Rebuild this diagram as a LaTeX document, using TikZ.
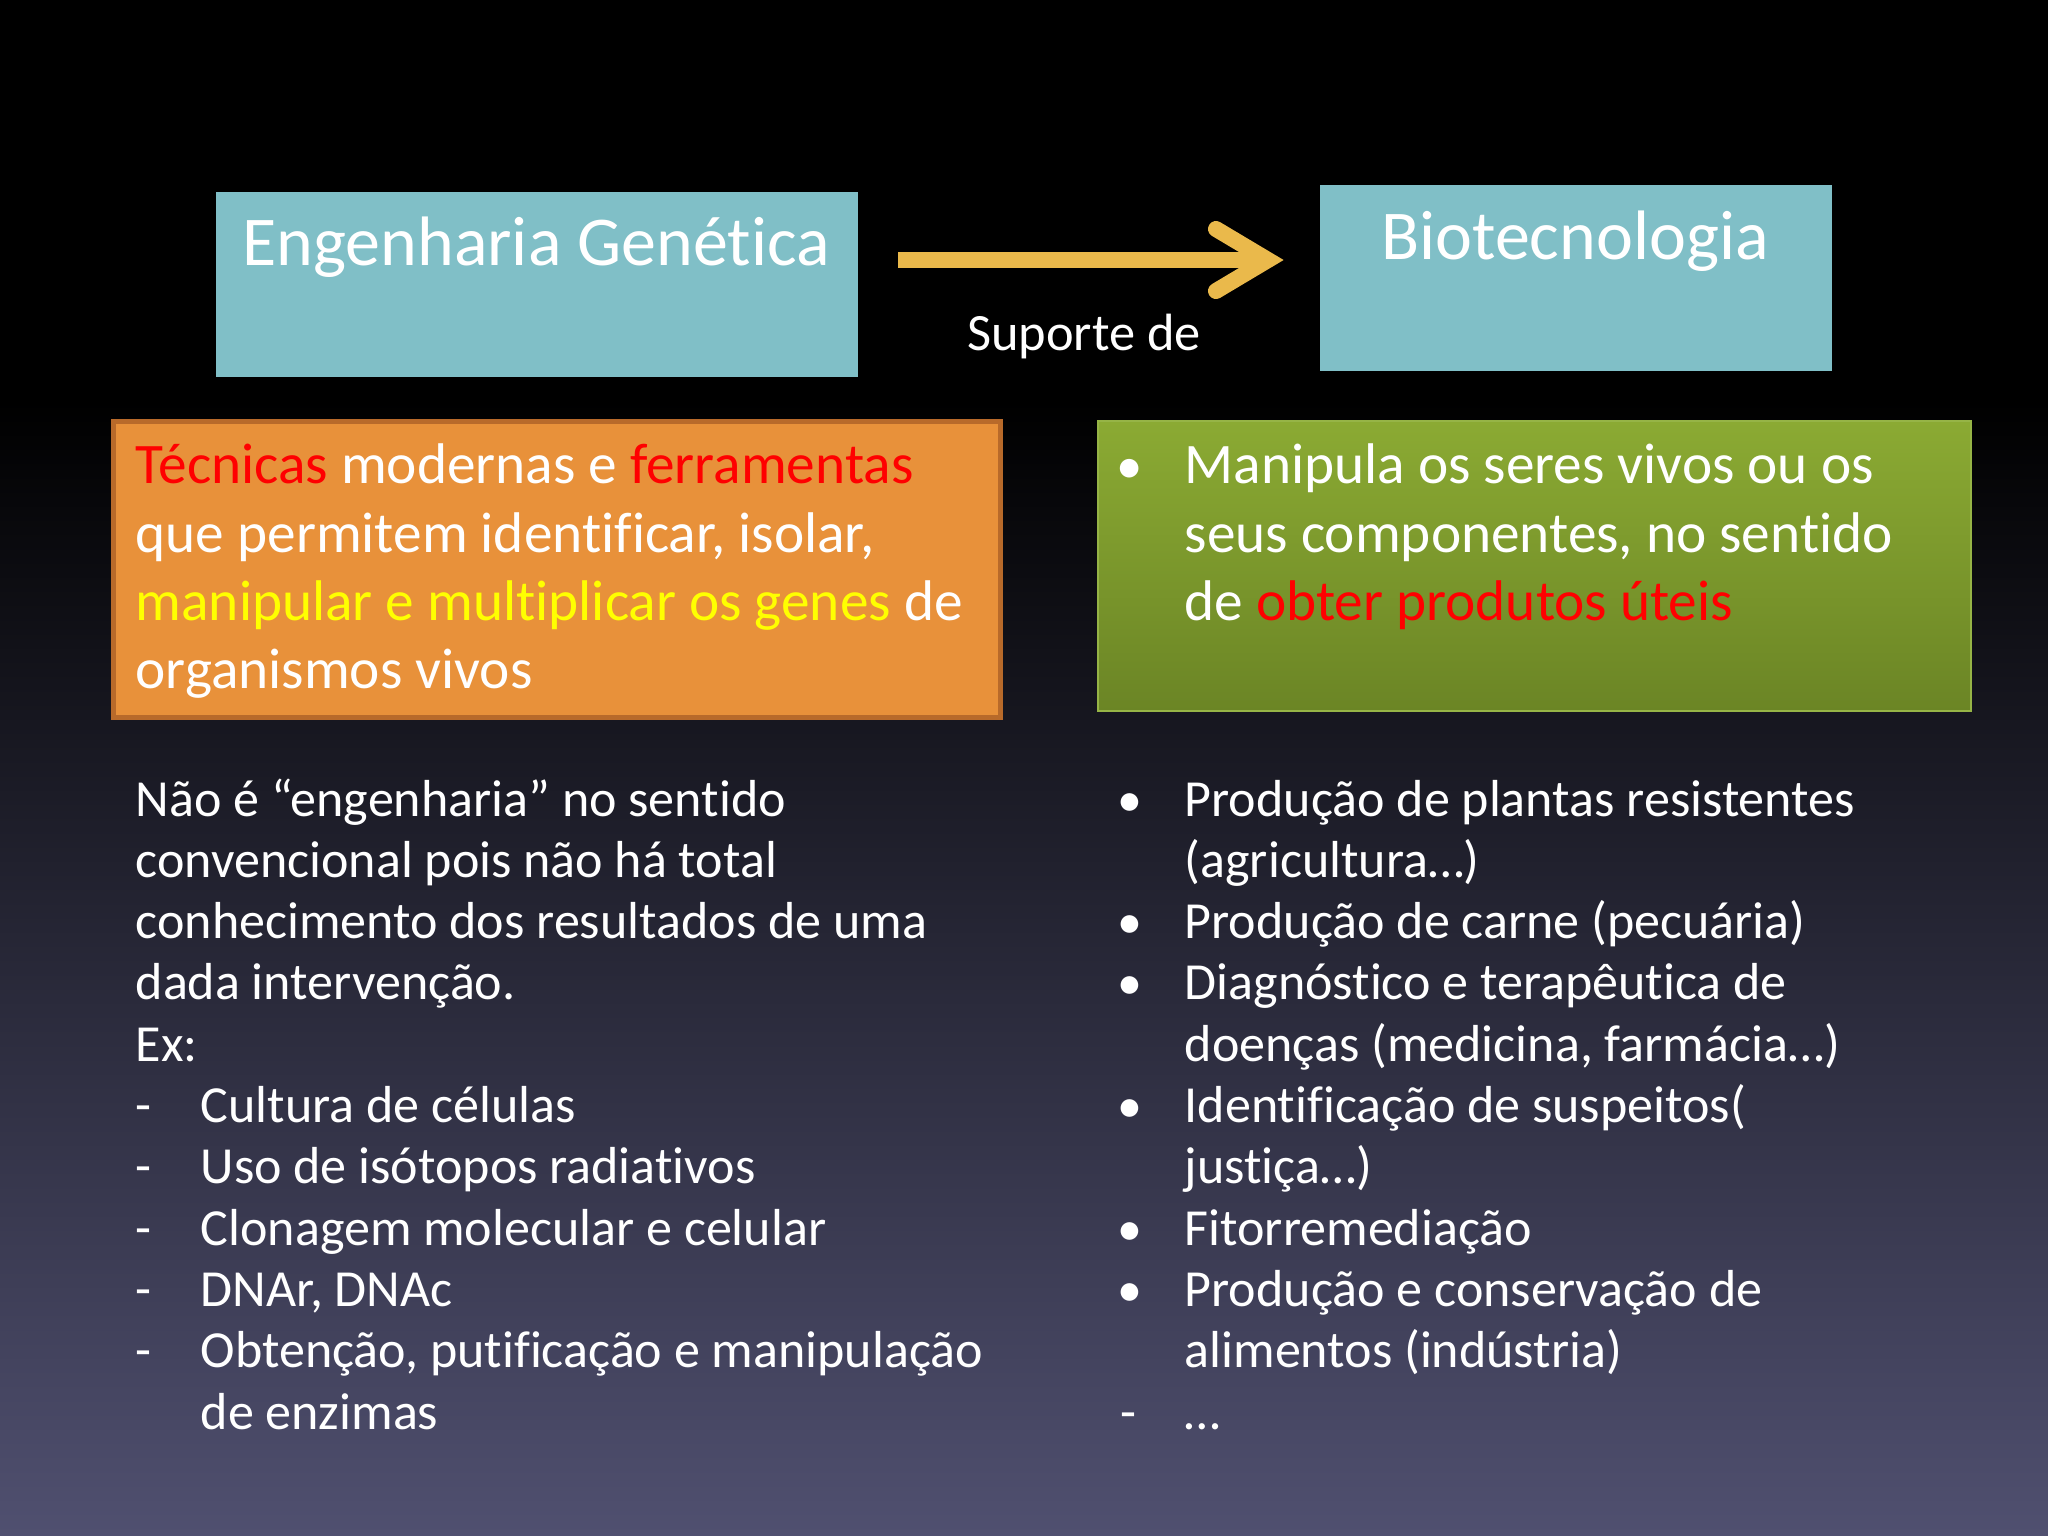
\documentclass[tikz,border=0pt]{standalone}
\usepackage{fontspec}
\setmainfont[Ligatures={NoCommon}]{Carlito}
\definecolor{bgbot}{RGB}{80,80,112}
\definecolor{teal}{RGB}{128,191,199}
\definecolor{orfill}{RGB}{232,145,58}
\definecolor{orline}{RGB}{184,106,42}
\definecolor{grtop}{RGB}{139,170,51}
\definecolor{grbot}{RGB}{107,133,37}
\definecolor{grline}{RGB}{150,180,70}
\definecolor{arrowc}{RGB}{234,185,75}
\definecolor{hlred}{RGB}{255,0,0}
\definecolor{hlyel}{RGB}{255,255,0}
\begin{document}
\begin{tikzpicture}[x=0.01cm,y=-0.01cm,
  txt/.style={text=white, inner sep=0pt, anchor=base west, font=\fontsize{14.8}{17}\selectfont},
  boxtxt/.style={text=white, inner sep=0pt, anchor=base west, font=\fontsize{16.3}{19}\selectfont},
  bul/.style={text=white, inner sep=0pt, anchor=base, font=\fontsize{14.2}{17}\selectfont},
  titletxt/.style={text=white, inner sep=0pt, anchor=base, font=\fontsize{19.9}{24}\selectfont},
  tealbox/.style={fill=teal, draw=none, anchor=north west, inner sep=0pt},
  arrowline/.style={draw=arrowc, line width=0.16cm}]
\useasboundingbox (0,0) rectangle (2048,1536);
% background
\fill[black] (0,0) rectangle (2048,402);
\shade[top color=black, bottom color=bgbot] (0,400) rectangle (2048,1536);

% top boxes
\node[tealbox, minimum width=6.42cm, minimum height=1.85cm] (eg) at (215,191) {};
\node[tealbox, minimum width=5.12cm, minimum height=1.86cm] (bt) at (1319,184) {};
\node[titletxt] (egt) at (536,265) {Engenharia Genética};
\node[titletxt] (btt) at (1575,259) {Biotecnologia};

% arrow
\coordinate (as) at (898,260);
\coordinate (ae) at (1268,260);
\coordinate (aw1) at (1216,229);
\coordinate (aw2) at (1216,291);
\draw[arrowline] (as) -- (ae);
\draw[arrowline, line cap=round, line join=miter] (aw1) -- (ae) -- (aw2);
\node[titletxt, font=\fontsize{14.9}{17}\selectfont] (sup) at (1084,350) {Suporte de};

% orange box
\node[fill=orfill, draw=orline, line width=0.05cm, anchor=north west, inner sep=0pt,
      minimum width=8.86cm, minimum height=2.96cm] (ob) at (111,419) {};
\node[boxtxt] (o1) at (135,483) {\textcolor{hlred}{Técnicas} modernas e \textcolor{hlred}{ferramentas}};
\node[boxtxt] (o2) at (135,552) {que permitem identificar, isolar,};
\node[boxtxt] (o3) at (135,620) {\textcolor{hlyel}{manipular e multiplicar os genes} de};
\node[boxtxt] (o4) at (135,688) {organismos vivos};

% green box
\shade[top color=grtop, bottom color=grbot, draw=grline, line width=0.02cm] (1098,421) rectangle (1971,711);
\node[anchor=north west, inner sep=0pt, minimum width=8.73cm, minimum height=2.9cm] (gb) at (1098,421) {};
\node[bul, font=\fontsize{15}{19}\selectfont] (gbul) at (1130,483) {•};
\node[boxtxt] (g1) at (1184,483) {Manipula os seres vivos ou os};
\node[boxtxt] (g2) at (1184,552) {seus componentes, no sentido};
\node[boxtxt] (g3) at (1184,620) {de \textcolor{hlred}{obter produtos úteis}};

% left bottom text
\node[txt] (l1) at (135,816) {Não é “engenharia” no sentido};
\node[txt] (l2) at (135,877) {convencional pois não há total};
\node[txt] (l3) at (135,938) {conhecimento dos resultados de uma};
\node[txt] (l4) at (135,999) {dada intervenção.};
\node[txt] (l5) at (135,1061) {Ex:};
\node[txt] (d1) at (135,1122) {-};
\node[txt] (l6) at (200,1122) {Cultura de células};
\node[txt] (d2) at (135,1183) {-};
\node[txt] (l7) at (200,1183) {Uso de isótopos radiativos};
\node[txt] (d3) at (135,1245) {-};
\node[txt] (l8) at (200,1245) {Clonagem molecular e celular};
\node[txt] (d4) at (135,1306) {-};
\node[txt] (l9) at (200,1306) {DNAr, DNAc};
\node[txt] (d5) at (135,1367) {-};
\node[txt] (l10) at (200,1367) {Obtenção, putificação e manipulação};
\node[txt] (l11) at (200,1429) {de enzimas};

% right bottom text
\node[bul] (b1) at (1130,816) {•};
\node[txt] (r1) at (1184,816) {Produção de plantas resistentes};
\node[txt] (r2) at (1184,877) {(agricultura…)};
\node[bul] (b2) at (1130,938) {•};
\node[txt] (r3) at (1184,938) {Produção de carne (pecuária)};
\node[bul] (b3) at (1130,999) {•};
\node[txt] (r4) at (1184,999) {Diagnóstico e terapêutica de};
\node[txt] (r5) at (1184,1061) {doenças (medicina, farmácia…)};
\node[bul] (b4) at (1130,1122) {•};
\node[txt] (r6) at (1184,1122) {Identificação de suspeitos(};
\node[txt] (r7) at (1184,1183) {justiça…)};
\node[bul] (b5) at (1130,1245) {•};
\node[txt] (r8) at (1184,1245) {Fitorremediação};
\node[bul] (b6) at (1130,1306) {•};
\node[txt] (r9) at (1184,1306) {Produção e conservação de};
\node[txt] (r10) at (1184,1367) {alimentos (indústria)};
\node[txt] (d6) at (1120,1429) {-};
\node[txt] (r11) at (1184,1429) {…};
\end{tikzpicture}
\end{document}
